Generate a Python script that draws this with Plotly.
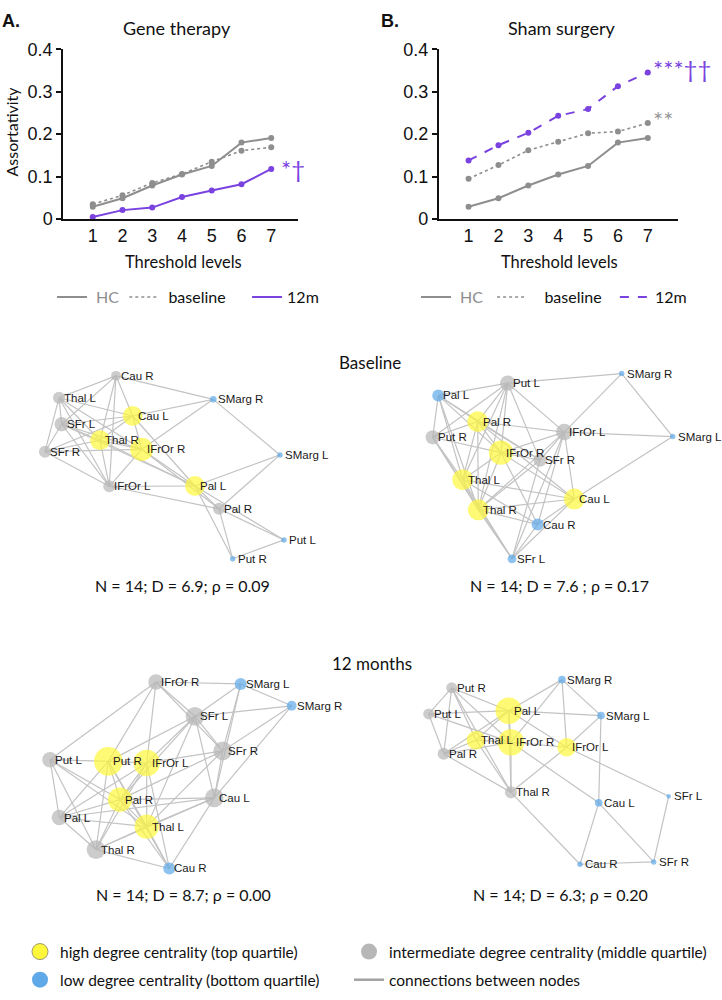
import plotly.graph_objects as go

# ---------------- line-chart data ----------------
thresholds = [1, 2, 3, 4, 5, 6, 7]
gene_hc = [0.029, 0.049, 0.079, 0.105, 0.125, 0.180, 0.191]
gene_baseline = [0.035, 0.056, 0.085, 0.106, 0.135, 0.161, 0.169]
gene_12m = [0.005, 0.021, 0.027, 0.052, 0.067, 0.082, 0.118]
sham_hc = [0.029, 0.049, 0.079, 0.105, 0.125, 0.180, 0.191]
sham_baseline = [0.095, 0.127, 0.162, 0.182, 0.202, 0.206, 0.226]
sham_12m = [0.138, 0.174, 0.203, 0.243, 0.259, 0.313, 0.345]
y_ticks = [0, 0.1, 0.2, 0.3, 0.4]
y_tick_labels = ["0", "0.1", "0.2", "0.3", "0.4"]
series_names = ["HC", "baseline", "12m"]

# ---------------- network data (layout coordinates) ----------------
n1_names = ["Cau R", "Thal L", "SFr L", "SFr R", "Thal R", "Cau L", "IFrOr R",
            "IFrOr L", "Pal L", "Pal R", "SMarg R", "SMarg L", "Put L", "Put R"]
n1_x = [116, 59, 61.7, 45, 100, 132.7, 141.7, 109.3, 195, 219, 213.3, 280, 284, 232.7]
n1_y = [373.3, 395.7, 422.7, 450.7, 439, 414.3, 448.3, 486, 485.7, 509, 397.3, 454, 540.7, 560]
n1_group = ["mid", "mid", "mid", "mid", "high", "high", "high",
            "mid", "high", "mid", "low", "low", "low", "low"]
n1_strength = [9, 11, 13, 11, 18, 18, 21, 11, 18, 11, 6, 5, 5, 5]
n1_edges = [("Cau R", "Thal L"), ("Cau R", "SFr L"), ("Cau R", "Thal R"), ("Cau R", "Cau L"),
            ("Cau R", "SMarg R"), ("Cau R", "IFrOr L"), ("Thal L", "SFr L"), ("Thal L", "SFr R"),
            ("Thal L", "Cau L"), ("Thal L", "Thal R"), ("Thal L", "IFrOr R"), ("Thal L", "IFrOr L"),
            ("SFr L", "SFr R"), ("SFr L", "Cau L"), ("SFr L", "Thal R"), ("SFr L", "IFrOr R"),
            ("SFr L", "IFrOr L"), ("SFr L", "Pal L"), ("SFr R", "Thal R"), ("SFr R", "IFrOr R"),
            ("SFr R", "IFrOr L"), ("SFr R", "Cau L"), ("Thal R", "IFrOr R"), ("Thal R", "IFrOr L"),
            ("Thal R", "Pal L"), ("Thal R", "Cau L"), ("Cau L", "IFrOr R"), ("Cau L", "SMarg R"),
            ("Cau L", "Pal L"), ("IFrOr R", "SMarg R"), ("IFrOr R", "Pal L"), ("IFrOr R", "IFrOr L"),
            ("IFrOr R", "Pal R"), ("IFrOr L", "Pal L"), ("IFrOr L", "Pal R"), ("Pal L", "SMarg L"),
            ("Pal L", "Pal R"), ("Pal L", "Put L"), ("Pal L", "Put R"), ("SMarg R", "SMarg L"),
            ("SMarg L", "Pal R"), ("Pal R", "Put L"), ("Pal R", "Put R"), ("Put R", "Put L")]

n2_names = ["SMarg R", "Put L", "Pal L", "Pal R", "Put R", "IFrOr L", "SMarg L",
            "IFrOr R", "SFr R", "Thal L", "Cau L", "Thal R", "Cau R", "SFr L"]
n2_x = [621.7, 507.7, 438.3, 477.7, 432.7, 564.3, 672.7, 501, 540, 462.7, 574.3, 478.3, 537.7, 512]
n2_y = [371, 380.7, 393.3, 420, 436, 430.7, 435.3, 451.7, 459.3, 479.3, 499, 510, 525, 560]
n2_group = ["low", "mid", "low", "high", "mid", "mid", "low",
            "high", "mid", "high", "high", "high", "low", "low"]
n2_strength = [5, 14, 11, 19, 13, 15, 5, 22, 12, 19, 19, 19, 11, 8]
n2_edges = [("SMarg R", "Put L"), ("SMarg R", "IFrOr L"), ("SMarg R", "SMarg L"),
            ("SMarg L", "IFrOr L"), ("SMarg L", "Cau L"), ("Put L", "Pal L"), ("Put L", "Pal R"),
            ("Put L", "Put R"), ("Put L", "IFrOr R"), ("Put L", "IFrOr L"), ("Put L", "Thal L"),
            ("Put L", "Thal R"), ("Put L", "SFr R"), ("Pal L", "Pal R"), ("Pal L", "Put R"),
            ("Pal L", "IFrOr R"), ("Pal L", "Thal L"), ("Pal L", "Thal R"), ("Pal L", "SFr R"),
            ("Pal R", "Put R"), ("Pal R", "IFrOr L"), ("Pal R", "IFrOr R"), ("Pal R", "Thal L"),
            ("Pal R", "Thal R"), ("Pal R", "SFr R"), ("Pal R", "Cau L"), ("Put R", "IFrOr R"),
            ("Put R", "Thal L"), ("Put R", "Thal R"), ("Put R", "SFr L"), ("IFrOr L", "IFrOr R"),
            ("IFrOr L", "SFr R"), ("IFrOr L", "Cau L"), ("IFrOr L", "Cau R"), ("IFrOr L", "SFr L"),
            ("IFrOr L", "Thal R"), ("IFrOr R", "Thal L"), ("IFrOr R", "Thal R"), ("IFrOr R", "Cau R"),
            ("IFrOr R", "Cau L"), ("IFrOr R", "SFr R"), ("SFr R", "Thal R"), ("SFr R", "SFr L"),
            ("Thal L", "Cau L"), ("Thal L", "Thal R"), ("Thal L", "SFr L"), ("Thal L", "Cau R"),
            ("Cau L", "Thal R"), ("Cau L", "Cau R"), ("Cau L", "SFr L"), ("Thal R", "Cau R"),
            ("Thal R", "SFr L"), ("Cau R", "SFr L")]

n3_names = ["IFrOr R", "SMarg L", "SMarg R", "SFr L", "SFr R", "Put L", "Put R",
            "IFrOr L", "Pal R", "Cau L", "Pal L", "Thal L", "Thal R", "Cau R"]
n3_x = [156, 240.7, 291.7, 195, 222.7, 50, 108.3, 146.7, 120, 214.3, 59.3, 146.7, 96, 169.3]
n3_y = [685.7, 687.7, 710, 720.7, 756, 765, 766.7, 768.3, 805.7, 804, 824, 833.3, 856.7, 876]
n3_group = ["mid", "low", "low", "mid", "mid", "mid", "high",
            "high", "high", "mid", "mid", "high", "mid", "low"]
n3_strength = [14, 11, 9, 17, 17, 14, 26, 24, 22, 17, 14, 22, 17, 11]
n3_edges = [("IFrOr R", "SMarg L"), ("IFrOr R", "SFr L"), ("IFrOr R", "SFr R"), ("IFrOr R", "Put L"),
            ("IFrOr R", "Put R"), ("IFrOr R", "IFrOr L"), ("SMarg L", "SMarg R"), ("SMarg L", "SFr L"),
            ("SMarg L", "SFr R"), ("SMarg L", "Cau L"), ("SMarg R", "SFr L"), ("SMarg R", "SFr R"),
            ("SMarg R", "Cau L"), ("SFr L", "SFr R"), ("SFr L", "Put R"), ("SFr L", "IFrOr L"),
            ("SFr L", "Pal R"), ("SFr L", "Thal L"), ("SFr L", "Cau L"), ("SFr R", "IFrOr L"),
            ("SFr R", "Cau L"), ("SFr R", "Pal R"), ("SFr R", "Thal L"), ("Put L", "Put R"),
            ("Put L", "Pal L"), ("Put L", "Pal R"), ("Put L", "Thal L"), ("Put L", "Thal R"),
            ("Put R", "IFrOr L"), ("Put R", "Pal R"), ("Put R", "Pal L"), ("Put R", "Thal R"),
            ("Put R", "Thal L"), ("Put R", "Cau R"), ("IFrOr L", "Pal R"), ("IFrOr L", "Pal L"),
            ("IFrOr L", "Thal L"), ("IFrOr L", "Thal R"), ("IFrOr L", "Cau R"), ("Pal R", "Pal L"),
            ("Pal R", "Thal L"), ("Pal R", "Thal R"), ("Pal R", "Cau L"), ("Pal R", "Cau R"),
            ("Cau L", "Pal L"), ("Cau L", "Thal L"), ("Cau L", "Thal R"), ("Cau L", "Cau R"),
            ("Pal L", "Thal L"), ("Pal L", "Thal R"), ("Thal L", "Thal R"), ("Thal L", "Cau R"),
            ("Thal R", "Cau R")]

n4_names = ["SMarg R", "Put R", "Pal L", "Put L", "SMarg L", "Thal L", "IFrOr R",
            "IFrOr L", "Pal R", "Thal R", "Cau L", "SFr L", "Cau R", "SFr R"]
n4_x = [562, 451.7, 508.7, 428.7, 601, 476, 511, 566.7, 443.7, 511, 598.7, 668.7, 580, 653.7]
n4_y = [683.3, 691.7, 715, 718.3, 720, 745, 747.3, 752.3, 759, 798.3, 809, 802.3, 871.7, 869.3]
n4_group = ["low", "mid", "high", "mid", "low", "high", "high",
            "high", "mid", "mid", "low", "low", "low", "low"]
n4_strength = [7, 10, 24, 10, 7, 17, 24, 17, 11, 11, 7, 4, 5, 5]
n4_edges = [("SMarg R", "Pal L"), ("SMarg R", "IFrOr R"), ("SMarg R", "IFrOr L"), ("SMarg R", "SMarg L"),
            ("Put R", "Put L"), ("Put R", "Pal L"), ("Put R", "Pal R"), ("Put R", "Thal L"),
            ("Put R", "IFrOr R"), ("Put R", "Thal R"), ("Put L", "Pal L"), ("Put L", "Pal R"),
            ("Put L", "IFrOr R"), ("Pal L", "SMarg L"), ("Pal L", "Thal L"), ("Pal L", "IFrOr R"),
            ("Pal L", "Pal R"), ("Pal L", "IFrOr L"), ("Pal L", "Thal R"), ("SMarg L", "IFrOr L"),
            ("SMarg L", "Cau L"), ("Thal L", "IFrOr R"), ("Thal L", "Pal R"), ("Thal L", "Thal R"),
            ("IFrOr R", "IFrOr L"), ("IFrOr R", "Pal R"), ("IFrOr R", "Thal R"), ("IFrOr R", "Cau L"),
            ("IFrOr L", "Thal R"), ("IFrOr L", "SFr L"), ("Pal R", "Thal R"), ("Thal R", "Cau R"),
            ("Cau L", "Cau R"), ("Cau L", "SFr R"), ("SFr L", "SFr R"), ("Cau R", "SFr R")]

network_captions = ["N = 14; D = 6.9; ρ = 0.09", "N = 14; D = 7.6 ; ρ = 0.17",
                    "N = 14; D = 8.7; ρ = 0.00", "N = 14; D = 6.3; ρ = 0.20"]
section_titles = ["Baseline", "12 months"]
legend_labels = ["high degree centrality (top quartile)",
                 "intermediate degree centrality (middle quartile)",
                 "low degree centrality (bottom quartile)",
                 "connections between nodes"]

# ---------------- styles ----------------
W, H = 722, 1000
GRAY = "#8e8e8e"
PURPLE = "#7a43e0"
EDGE = "#c3c3c3"
NODE_COL = {"high": "#fff83a", "mid": "#b7b7b7", "low": "#5fa9e8"}
NODE_SCALE = 1.1
CAL = "Lato, 'Open Sans', sans-serif"
ARIAL = "'Liberation Sans', Arial, sans-serif"
NB = "\u00a0"

fig = go.Figure()

# ---------------- line charts ----------------
panels = [
    ("x", "y", "legend", gene_hc, gene_baseline, gene_12m, "solid",
     [NB + "%s", NB + "%s" + NB * 4, "%s"]),
    ("x2", "y2", "legend2", sham_hc, sham_baseline, sham_12m, "dash",
     [NB + "%s" + NB, NB * 3 + "%s" + NB * 2, "%s"]),
]
for xa, ya, leg, hc, base, m12, dash12, pads in panels:
    specs = [
        (hc, GRAY, "solid", 2, "<span style='color:%s'>%s</span>" % (GRAY, pads[0] % series_names[0])),
        (base, GRAY, "dot", 1.6, pads[1] % series_names[1]),
        (m12, PURPLE, dash12, 2, pads[2] % series_names[2]),
    ]
    for vals, col, dsh, wd, nm in specs:
        fig.add_trace(go.Scatter(x=thresholds, y=vals, mode="lines", name=nm,
                                 line=dict(color=col, dash=dsh, width=wd),
                                 xaxis=xa, yaxis=ya, legend=leg, hoverinfo="skip"))
        fig.add_trace(go.Scatter(x=thresholds, y=vals, mode="markers", showlegend=False,
                                 marker=dict(color=col, size=6), xaxis=xa, yaxis=ya,
                                 hoverinfo="skip"))

# ---------------- networks ----------------
networks = [
    (n1_names, n1_x, n1_y, n1_group, n1_strength, n1_edges),
    (n2_names, n2_x, n2_y, n2_group, n2_strength, n2_edges),
    (n3_names, n3_x, n3_y, n3_group, n3_strength, n3_edges),
    (n4_names, n4_x, n4_y, n4_group, n4_strength, n4_edges),
]
annotations = []
for names, xs, ys, groups, strength, edges in networks:
    pos = {n: (x, y) for n, x, y in zip(names, xs, ys)}
    ex, ey = [], []
    for a, b in edges:
        ex += [pos[a][0], pos[b][0], None]
        ey += [pos[a][1], pos[b][1], None]
    fig.add_trace(go.Scatter(x=ex, y=ey, mode="lines", line=dict(color=EDGE, width=1.2),
                             showlegend=False, xaxis="x3", yaxis="y3", hoverinfo="skip"))
    for g in ["mid", "low", "high"]:
        idx = [i for i, gg in enumerate(groups) if gg == g]
        fig.add_trace(go.Scatter(
            x=[xs[i] for i in idx], y=[ys[i] for i in idx], mode="markers",
            marker=dict(color=NODE_COL[g], size=[strength[i] * NODE_SCALE for i in idx],
                        line=dict(width=0)),
            showlegend=False, xaxis="x3", yaxis="y3", hoverinfo="skip"))
    for n, x, y in zip(names, xs, ys):
        annotations.append(dict(x=x, y=y, xref="x3", yref="y3", text=n, showarrow=False,
                                xanchor="left", yanchor="middle", xshift=3,
                                font=dict(family=ARIAL, size=11.5, color="#1a1a1a")))

# legend entries for the node classes
legend_specs = [
    (legend_labels[0], "legend3", dict(mode="markers", marker=dict(size=17, color=NODE_COL["high"], line=dict(color="#9c9a6a", width=1)))),
    (legend_labels[2], "legend3", dict(mode="markers", marker=dict(size=17, color=NODE_COL["low"], line=dict(width=0)))),
    (legend_labels[1], "legend4", dict(mode="markers", marker=dict(size=17, color=NODE_COL["mid"], line=dict(width=0)))),
    (legend_labels[3], "legend4", dict(mode="lines", line=dict(color="#a3a3a3", width=2.5))),
]
for k, (nm, leg, kw) in enumerate(legend_specs):
    fig.add_trace(go.Scatter(x=[None], y=[None], name=nm, legend=leg, legendgroup="g%d" % k,
                             xaxis="x3", yaxis="y3", **kw))

# ---------------- text ----------------
def txt(x, y, t, size, family=CAL, color="#111", anchor="center", bold=False, angle=0):
    if bold:
        t = "<b>%s</b>" % t
    annotations.append(dict(x=x, y=y, xref="x3", yref="y3", text=t, showarrow=False,
                            xanchor=anchor, yanchor="middle", textangle=angle,
                            font=dict(family=family, size=size, color=color)))

txt(0, 11, "A.", 18, family=ARIAL, anchor="left", bold=True)
txt(379, 11, "B.", 18, family=ARIAL, anchor="left", bold=True)
txt(177, 18, "Gene therapy", 18)
txt(561, 18, "Sham surgery", 18)
txt(183, 257, "Threshold levels", 16.5)
txt(559, 257, "Threshold levels", 16.5)
txt(12, 124, "Assortativity", 16, angle=-90)
txt(370, 360, section_titles[0], 17)
txt(372, 667, section_titles[1], 17)
txt(182, 587, network_captions[0], 16)
txt(559, 587, network_captions[1], 16)
txt(183, 903, network_captions[2], 16)
txt(560, 903, network_captions[3], 16)

# significance marks tied to the last data point
annotations.append(dict(x=7, y=gene_12m[-1], xref="x", yref="y", text="*†", showarrow=False,
                        xanchor="left", yanchor="middle", xshift=8,
                        font=dict(family=CAL, size=24, color=PURPLE)))
annotations.append(dict(x=7, y=sham_12m[-1], xref="x2", yref="y2", text="***††", showarrow=False,
                        xanchor="left", yanchor="middle", xshift=3, yshift=4,
                        font=dict(family=CAL, size=24, color=PURPLE)))
annotations.append(dict(x=7, y=sham_baseline[-1], xref="x2", yref="y2", text="**", showarrow=False,
                        xanchor="left", yanchor="middle", xshift=3, yshift=4,
                        font=dict(family=CAL, size=24, color="#9a9a9a")))

# ---------------- axes ----------------
def xaxis_cfg(domain, rng):
    return dict(domain=domain, range=rng, showline=True, linecolor="#111", linewidth=1.5,
                tickvals=thresholds, ticks="", showgrid=False, zeroline=False,
                tickfont=dict(family=ARIAL, size=18, color="#111"), ticklabelstandoff=0,
                fixedrange=True)

def yaxis_cfg(domain, anchor):
    return dict(domain=domain, range=[0, 0.4], showline=True, linecolor="#111", linewidth=1.5,
                tickvals=y_ticks, ticktext=y_tick_labels, ticks="outside", ticklen=5,
                tickcolor="#111", tickwidth=1.5, showgrid=False, zeroline=False,
                tickfont=dict(family=ARIAL, size=18, color="#111"), anchor=anchor,
                fixedrange=True)

ydom = [1 - 213.3 / H, 1 - 40 / H]
leg_font = dict(family=CAL, size=16, color="#111")
leg_font2 = dict(family=CAL, size=15.5, color="#111")
fig.update_layout(
    width=W, height=H, margin=dict(l=0, r=0, t=0, b=0),
    paper_bgcolor="white", plot_bgcolor="rgba(0,0,0,0)",
    xaxis=dict(**xaxis_cfg([63 / W, 298 / W], [0, 7.9]), anchor="y"),
    yaxis=yaxis_cfg(ydom, "x"),
    xaxis2=dict(**xaxis_cfg([438.7 / W, 677.7 / W], [0, 8]), anchor="y2"),
    yaxis2=yaxis_cfg(ydom, "x2"),
    xaxis3=dict(domain=[0, 1], range=[0, W], visible=False, anchor="y3", fixedrange=True),
    yaxis3=dict(domain=[0, 1], range=[H, 0], visible=False, anchor="x3", fixedrange=True),
    legend=dict(orientation="h", x=52 / W, y=1 - 293 / H, xanchor="left", yanchor="middle",
                font=leg_font, bgcolor="rgba(0,0,0,0)", traceorder="normal"),
    legend2=dict(orientation="h", x=416 / W, y=1 - 293 / H, xanchor="left", yanchor="middle",
                 font=leg_font, bgcolor="rgba(0,0,0,0)", traceorder="normal"),
    legend3=dict(orientation="v", x=20 / W, y=1 - 975.5 / H, xanchor="left", yanchor="middle",
                 font=leg_font2, bgcolor="rgba(0,0,0,0)", tracegroupgap=5, itemsizing="trace"),
    legend4=dict(orientation="v", x=349 / W, y=1 - 975.5 / H, xanchor="left", yanchor="middle",
                 font=leg_font2, bgcolor="rgba(0,0,0,0)", tracegroupgap=5, itemsizing="trace"),
    annotations=annotations,
    showlegend=True,
)

fig.write_html("out.html", config={"displayModeBar": False},
               post_script="document.body.style.margin='0';")
